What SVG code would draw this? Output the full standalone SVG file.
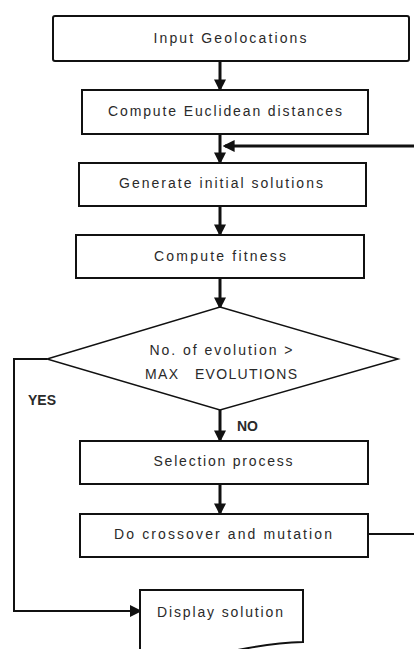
<svg xmlns="http://www.w3.org/2000/svg" width="414" height="649" viewBox="0 0 414 649">
<defs>
<style>
.box{fill:#fff;stroke:#111;stroke-width:2}
.dia{fill:#fff;stroke:#111;stroke-width:1.5}
.t{font-family:"Liberation Sans","Open Sans",sans-serif;font-size:14px;fill:#2a2a2a;text-anchor:middle}
.lbl{font-family:"Liberation Sans","Open Sans",sans-serif;font-size:14px;font-weight:bold;fill:#2a2a2a}
.arr{fill:none;stroke:#111;stroke-width:3}
.thin{fill:none;stroke:#111;stroke-width:2}
</style>
<marker id="ah" markerWidth="4" markerHeight="4" refX="3.2" refY="2" orient="auto" markerUnits="strokeWidth">
<path d="M0,0 L4,2 L0,4 Z" fill="#111"/>
</marker>
<marker id="ah2" markerWidth="6" markerHeight="6" refX="5" refY="3" orient="auto" markerUnits="strokeWidth">
<path d="M0,0 L6,3 L0,6 Z" fill="#111"/>
</marker>
</defs>
<rect width="414" height="649" fill="#fff"/>
<g id="connectors">
<line class="arr" x1="220" y1="61" x2="220" y2="89" marker-end="url(#ah)"/>
<line class="arr" x1="220" y1="134" x2="220" y2="162" marker-end="url(#ah)"/>
<line class="arr" x1="414" y1="146" x2="225" y2="146" marker-end="url(#ah)"/>
<line class="arr" x1="220" y1="206" x2="220" y2="234" marker-end="url(#ah)"/>
<line class="arr" x1="220" y1="278" x2="220" y2="307" marker-end="url(#ah)"/>
<line class="arr" x1="220" y1="410" x2="220" y2="440" marker-end="url(#ah)"/>
<line class="arr" x1="220" y1="484" x2="220" y2="513" marker-end="url(#ah)"/>
<path class="thin" d="M368,534 H414"/>
<path class="thin" d="M47,359 H14 V611 H140" marker-end="url(#ah2)"/>
</g>
<g id="n1"><rect class="box" x="53" y="16" width="356" height="45" rx="2"/><text class="t" x="230" y="43" textLength="153" lengthAdjust="spacing">Input Geolocations</text></g>
<g id="n2"><rect class="box" x="82" y="90" width="286" height="44"/><text class="t" x="225" y="116" textLength="234" lengthAdjust="spacing">Compute Euclidean distances</text></g>
<g id="n3"><rect class="box" x="79" y="163" width="287" height="43"/><text class="t" x="221" y="188" textLength="204" lengthAdjust="spacing">Generate initial solutions</text></g>
<g id="n4"><rect class="box" x="76" y="235" width="288" height="43"/><text class="t" x="220" y="261" textLength="132" lengthAdjust="spacing">Compute fitness</text></g>
<g id="n5"><polygon class="dia" points="220,307 398,359 220,410 47,359"/><text class="t" x="221" y="355" textLength="143" lengthAdjust="spacing">No. of evolution &gt;</text><text class="t" x="221" y="379" textLength="152" lengthAdjust="spacing" xml:space="preserve">MAX   EVOLUTIONS</text></g>
<g id="n6"><rect class="box" x="80" y="441" width="288" height="43"/><text class="t" x="223" y="466" textLength="139" lengthAdjust="spacing">Selection process</text></g>
<g id="n7"><rect class="box" x="80" y="514" width="288" height="43"/><text class="t" x="223" y="539" textLength="218" lengthAdjust="spacing">Do crossover and mutation</text></g>
<g id="n8"><path class="box" d="M140,652 V590 H303 V642 Q270,643 228,652"/><text class="t" x="220" y="617" textLength="126" lengthAdjust="spacing">Display solution</text></g>
<text class="lbl" x="28" y="405">YES</text>
<text class="lbl" x="237" y="431">NO</text>
</svg>
